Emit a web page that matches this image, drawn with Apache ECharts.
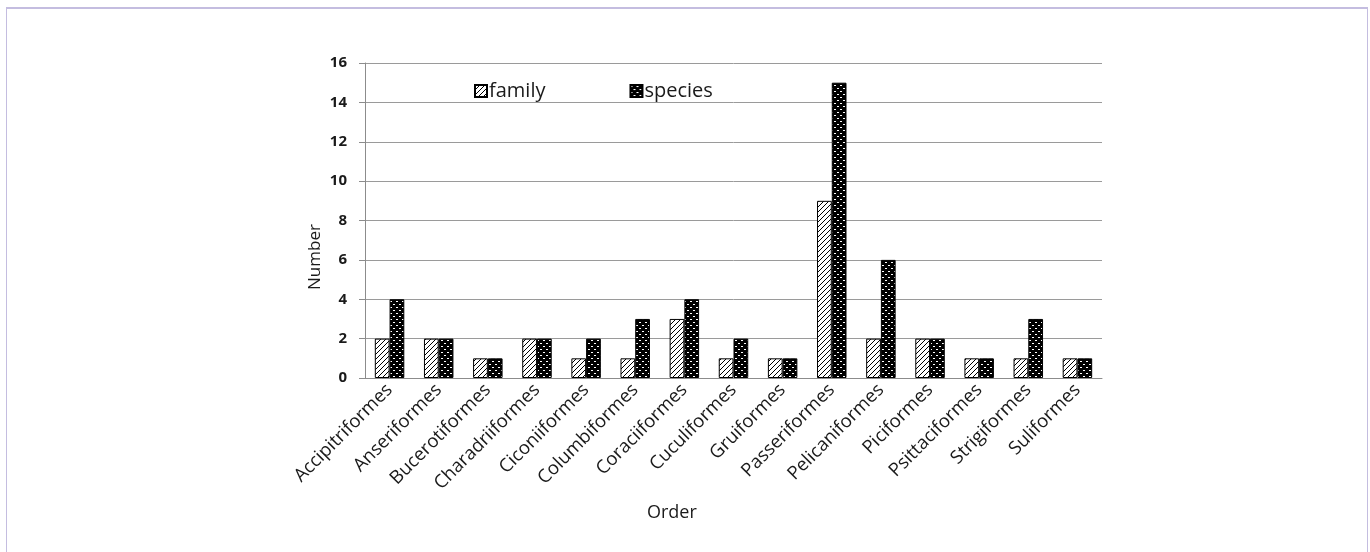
<!DOCTYPE html>
<html>
<head>
<meta charset="utf-8">
<script src="https://cdn.jsdelivr.net/npm/echarts@6/dist/echarts.min.js"></script>
<style>
  html, body { margin: 0; padding: 0; background: #fff; }
  #frame {
    position: absolute; left: 6px; top: 7px; width: 1360px; height: 560px;
    border-left: 1px solid #c4bde0; border-top: 2px solid #c4bde0; border-right: 1px solid #c4bde0;
  }
  #chart { position: absolute; left: 0; top: 0; width: 1370px; height: 552px; }
</style>
</head>
<body>
<div id="frame"></div>
<div id="chart"></div>
<script>
// 数据
const orders = ['Accipitriformes', 'Anseriformes', 'Bucerotiformes', 'Charadriiformes', 'Ciconiiformes',
  'Columbiformes', 'Coraciiformes', 'Cuculiformes', 'Gruiformes', 'Passeriformes',
  'Pelicaniformes', 'Piciformes', 'Psittaciformes', 'Strigiformes', 'Suliformes']
const familyCounts = [2, 2, 1, 2, 1, 1, 3, 1, 1, 9, 2, 2, 1, 1, 1]
const speciesCounts = [4, 2, 1, 2, 2, 3, 4, 2, 1, 15, 6, 2, 1, 3, 1]

// 斜线填充
function hatchPattern () {
  const c = document.createElement('canvas')
  c.width = 5; c.height = 5
  const ctx = c.getContext('2d')
  ctx.fillStyle = '#fff'
  ctx.fillRect(0, 0, 5, 5)
  ctx.strokeStyle = '#000'
  ctx.lineWidth = 1
  for (let k = -5; k <= 10; k += 5) {
    ctx.beginPath()
    ctx.moveTo(k, 5)
    ctx.lineTo(k + 5, 0)
    ctx.stroke()
  }
  return c
}
// 黑底白点填充
function dotPattern () {
  const c = document.createElement('canvas')
  c.width = 6; c.height = 6
  const ctx = c.getContext('2d')
  ctx.fillStyle = '#000'
  ctx.fillRect(0, 0, 6, 6)
  ctx.fillStyle = '#fff'
  ctx.fillRect(0, 1, 2, 1)
  ctx.fillRect(3, 4, 2, 1)
  return c
}

const chart = echarts.init(document.getElementById('chart'))
const textColor = '#1a1a1a'
const option = {
  animation: false,
  grid: { left: 365, right: 268, top: 63, bottom: 174 },
  legend: {
    left: 469, top: 76,
    itemGap: 84,
    itemWidth: 12, itemHeight: 12,
    textStyle: { fontFamily: 'Open Sans', fontSize: 20, color: textColor, padding: [0, 0, 0, -3] },
    data: [
      { name: 'family', icon: 'rect' },
      { name: 'species', icon: 'rect' }
    ]
  },
  xAxis: {
    type: 'category',
    data: orders,
    axisLine: { lineStyle: { color: '#8c8c8c' } },
    axisTick: { length: 5, lineStyle: { color: '#8c8c8c' } },
    axisLabel: {
      rotate: 45, interval: 0, margin: 9,
      fontFamily: 'Open Sans', fontSize: 18.5, color: textColor
    }
  },
  yAxis: {
    type: 'value',
    min: 0, max: 16, interval: 2,
    axisLine: { show: true, lineStyle: { color: '#8c8c8c' } },
    axisTick: { show: true, length: 6, lineStyle: { color: '#8c8c8c' } },
    axisLabel: { margin: 18, fontFamily: 'Open Sans', fontSize: 15, fontWeight: 'bold', color: textColor },
    splitLine: { lineStyle: { color: '#9a9a9a' } }
  },
  graphic: [
    {
      type: 'text', left: 647, top: 504,
      style: { text: 'Order', fontFamily: 'Open Sans', fontSize: 18, fill: textColor }
    },
    {
      type: 'text', x: 315, y: 257, rotation: Math.PI / 2,
      style: { text: 'Number', fontFamily: 'Open Sans', fontSize: 17, fill: textColor, align: 'center', verticalAlign: 'middle' }
    }
  ],
  series: [
    {
      name: 'family', type: 'bar', data: familyCounts,
      barGap: 0, barCategoryGap: '40%',
      itemStyle: { color: { image: hatchPattern(), repeat: 'repeat' }, borderColor: '#000', borderWidth: 1 }
    },
    {
      name: 'species', type: 'bar', data: speciesCounts,
      itemStyle: { color: { image: dotPattern(), repeat: 'repeat' }, borderColor: '#000', borderWidth: 1 }
    }
  ]
}
chart.setOption(option)
</script>
</body>
</html>
